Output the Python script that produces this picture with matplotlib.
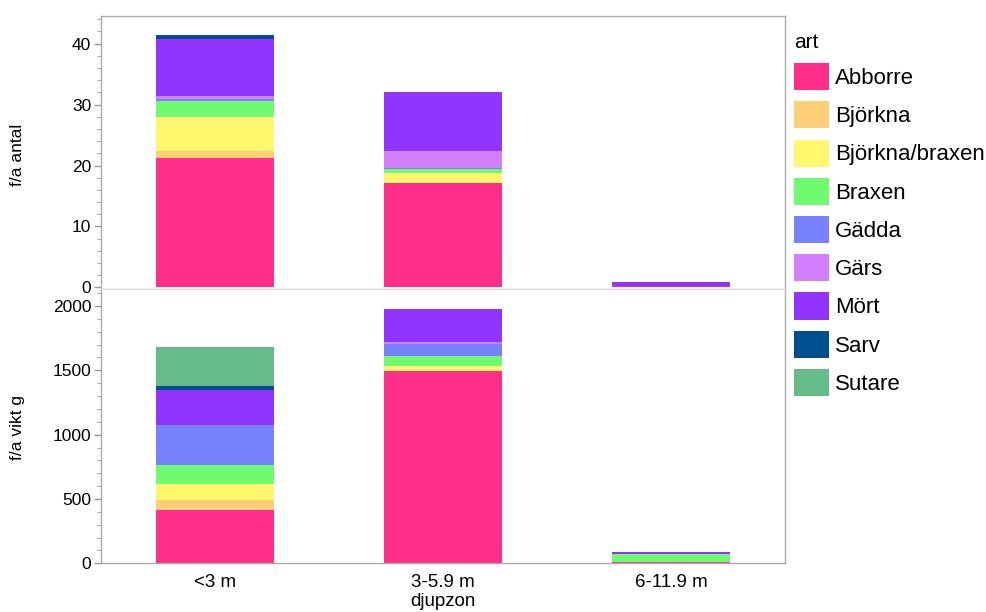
import matplotlib
matplotlib.use("Agg")
import matplotlib.pyplot as plt
from matplotlib.patches import Patch
from matplotlib.ticker import MultipleLocator
import numpy as np

plt.rcParams['font.family'] = ['Liberation Sans', 'DejaVu Sans']

zones = ["<3 m", "3-5.9 m", "6-11.9 m"]
species = ["Abborre", "Björkna", "Björkna/braxen", "Braxen", "Gädda", "Gärs", "Mört", "Sarv", "Sutare"]
colors = ["#FF2E88", "#FFCF78", "#FFF86E", "#70FA70", "#7882FF", "#D47FFF", "#9234FF", "#00508F", "#66BC88"]

# f/a antal per species, per zone
antal_abborre = [21.3, 17.2, 0.2]
antal_bjorkna = [1.1, 0.0, 0.0]
antal_bjbr = [5.6, 1.5, 0.0]
antal_braxen = [2.5, 0.8, 0.05]
antal_gadda = [0.45, 0.1, 0.0]
antal_gars = [0.4, 2.7, 0.0]
antal_mort = [9.4, 9.7, 0.7]
antal_sarv = [0.6, 0.0, 0.0]
antal_sutare = [0.1, 0.0, 0.0]

# f/a vikt g per species, per zone
vikt_abborre = [412, 1497, 10]
vikt_bjorkna = [83, 0, 0]
vikt_bjbr = [124, 36, 0]
vikt_braxen = [142, 78, 62]
vikt_gadda = [311, 91, 0]
vikt_gars = [5, 21, 0]
vikt_mort = [272, 251, 16]
vikt_sarv = [31, 0, 0]
vikt_sutare = [300, 0, 0]

antal = [antal_abborre, antal_bjorkna, antal_bjbr, antal_braxen, antal_gadda,
         antal_gars, antal_mort, antal_sarv, antal_sutare]
vikt = [vikt_abborre, vikt_bjorkna, vikt_bjbr, vikt_braxen, vikt_gadda,
        vikt_gars, vikt_mort, vikt_sarv, vikt_sutare]

W, H = 987, 612
fig = plt.figure(figsize=(W / 100, H / 100), dpi=100)

L, R = 101, 785
top_t, mid, bot_b = 15.5, 289, 563.3
ax1 = fig.add_axes([L / W, 1 - mid / H, (R - L) / W, (mid - top_t) / H])
ax2 = fig.add_axes([L / W, 1 - bot_b / H, (R - L) / W, (bot_b - mid) / H])

x = np.arange(len(zones))
bw = 0.52
for ax, data in ((ax1, antal), (ax2, vikt)):
    bottom = np.zeros(len(zones))
    for vals, c in zip(data, colors):
        v = np.array(vals, dtype=float)
        ax.bar(x, v, bw, bottom=bottom, color=c, linewidth=0)
        bottom += v
    ax.set_xlim(-0.5, 2.5)
    for s in ax.spines.values():
        s.set_color("#aaaaaa")
        s.set_linewidth(1.0)
    ax.tick_params(axis='y', which='major', length=5, width=1, color="#999999",
                   labelsize=12.5, pad=2)
    ax.tick_params(axis='y', which='minor', length=3, width=0.8, color="#aaaaaa")

ax1.set_ylim(-0.25, 44.6)
ax1.yaxis.set_major_locator(MultipleLocator(10))
ax1.yaxis.set_minor_locator(MultipleLocator(2))
ax1.set_xticks([])
ax1.spines['bottom'].set_color("#dddddd")

ax2.set_ylim(0, 2132)
ax2.yaxis.set_major_locator(MultipleLocator(500))
ax2.yaxis.set_minor_locator(MultipleLocator(100))
ax2.spines['top'].set_color("#dddddd")
ax2.set_xticks(x)
ax2.set_xticklabels(zones)
ax2.tick_params(axis='x', length=0, labelsize=13.5, pad=8)

fig.text(18 / W, 1 - 155 / H, "f/a antal", rotation=90, ha='center', va='center', fontsize=12.5)
fig.text(18 / W, 1 - 428 / H, "f/a vikt g", rotation=90, ha='center', va='center', fontsize=12.5)
fig.text(443 / W, 1 - 602 / H, "djupzon", ha='center', va='center', fontsize=13.5)

handles = [Patch(facecolor=c, edgecolor='none') for c in colors]
leg = fig.legend(handles, species, title="art", loc='upper left',
                 bbox_to_anchor=(794 / W, 1 - 33 / H), frameon=False,
                 fontsize=16, title_fontsize=15, handlelength=1.58, handleheight=1.5,
                 labelspacing=0.5, handletextpad=0.25, borderpad=0, borderaxespad=0,
                 alignment='left')

fig.savefig("out.png", dpi=100, facecolor='white')
